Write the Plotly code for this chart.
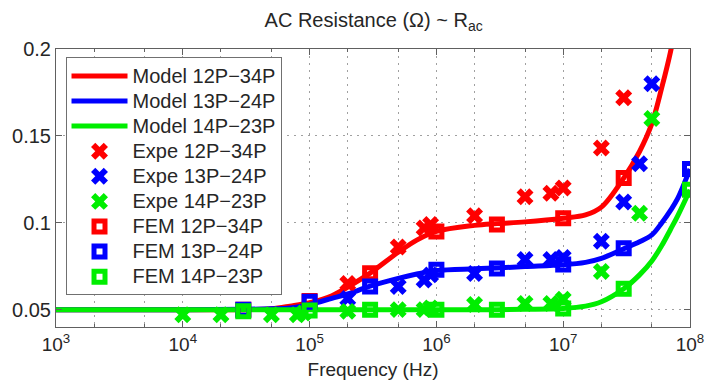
import plotly.graph_objects as go

# ---- data ----
model_freq = [1e3, 1e4, 3e4, 5e4, 7e4, 1e5, 1.5e5, 2e5, 3e5, 5e5, 7e5, 1e6, 2e6, 3e6,
              5e6, 1e7, 1.5e7, 2e7, 3e7, 4e7, 5e7, 6e7, 7e7, 8e7, 1e8]
model_12_34 = [0.05, 0.05, 0.05, 0.0505, 0.052, 0.054, 0.058, 0.063, 0.071, 0.083, 0.090,
               0.095, 0.0985, 0.0995, 0.1005, 0.1026, 0.1045, 0.109, 0.1257, 0.141, 0.157,
               0.178, 0.198, 0.22, 0.27]
model_13_24 = [0.05, 0.05, 0.0502, 0.0505, 0.051, 0.053, 0.0565, 0.059, 0.0635, 0.068, 0.0705,
               0.0725, 0.0735, 0.074, 0.0748, 0.0758, 0.0772, 0.0795, 0.085, 0.089, 0.093,
               0.100, 0.107, 0.114, 0.131]
model_14_23 = [0.05, 0.05, 0.05, 0.05, 0.05, 0.05, 0.05, 0.05, 0.05, 0.05, 0.05,
               0.05, 0.05, 0.05, 0.0502, 0.0507, 0.052, 0.0545, 0.062, 0.070, 0.078,
               0.087, 0.096, 0.104, 0.119]

expe_freq_12_34 = [2e5, 5e5, 8e5, 9e5, 2e6, 5e6, 8e6, 1e7, 2e7, 3e7]
expe_12_34 = [0.065, 0.086, 0.097, 0.099, 0.104, 0.115, 0.117, 0.120, 0.143, 0.172]
expe_freq_13_24 = [2e5, 5e5, 8e5, 9e5, 2e6, 5e6, 8e6, 1e7, 2e7, 3e7, 4e7, 5e7]
expe_13_24 = [0.0564, 0.0633, 0.067, 0.070, 0.0708, 0.0789, 0.0789, 0.080, 0.0893, 0.112,
              0.134, 0.180]
expe_freq_14_23 = [1e4, 2e4, 5e4, 8e4, 9e4, 2e5, 5e5, 8e5, 9e5, 2e6, 5e6, 8e6, 1e7, 2e7,
                   4e7, 5e7]
expe_14_23 = [0.047, 0.047, 0.047, 0.047, 0.048, 0.049, 0.05, 0.05, 0.051, 0.053, 0.0535,
              0.0535, 0.056, 0.072, 0.1055, 0.160]

fem_freq_12_34 = [3e4, 1e5, 3e5, 1e6, 3e6, 1e7, 3e7]
fem_12_34 = [0.05, 0.055, 0.071, 0.095, 0.099, 0.1026, 0.1257]
fem_freq = [3e4, 1e5, 3e5, 1e6, 3e6, 1e7, 3e7, 1e8]
fem_13_24 = [0.05, 0.0546, 0.0633, 0.073, 0.0737, 0.076, 0.0853, 0.131]
fem_14_23 = [0.049, 0.0495, 0.05, 0.05, 0.05, 0.0506, 0.062, 0.119]

series_labels = ["Model 12P\u221234P", "Model 13P\u221224P", "Model 14P\u221223P",
                 "Expe 12P\u221234P", "Expe 13P\u221224P", "Expe 14P\u221223P",
                 "FEM 12P\u221234P", "FEM 13P\u221224P", "FEM 14P\u221223P"]

x_tickvals = [1e3, 1e4, 1e5, 1e6, 1e7, 1e8]
x_ticktext = ["10<sup>3</sup>", "10<sup>4</sup>", "10<sup>5</sup>", "10<sup>6</sup>",
              "10<sup>7</sup>", "10<sup>8</sup>"]
y_tickvals = [0.05, 0.1, 0.15, 0.2]
y_ticktext = ["0.05", "0.1", "0.15", "0.2"]

RED, BLUE, GREEN = "#ff0000", "#0000ff", "#00ee00"


def lbl(s):
    return "<span style='font-size:20px'>" + s + "</span>"


fig = go.Figure()

for name, ys, c in [(series_labels[0], model_12_34, RED),
                    (series_labels[1], model_13_24, BLUE),
                    (series_labels[2], model_14_23, GREEN)]:
    fig.add_trace(go.Scatter(x=model_freq, y=ys, mode="lines", name=lbl(name),
                             line=dict(color=c, width=5, shape="spline", smoothing=1.0)))

for name, xs, ys, c in [(series_labels[3], expe_freq_12_34, expe_12_34, RED),
                        (series_labels[4], expe_freq_13_24, expe_13_24, BLUE),
                        (series_labels[5], expe_freq_14_23, expe_14_23, GREEN)]:
    fig.add_trace(go.Scatter(x=xs, y=ys, mode="markers", name=lbl(name),
                             marker=dict(symbol="x", size=15, color=c,
                                         line=dict(width=0))))

for name, xs, ys, c in [(series_labels[6], fem_freq_12_34, fem_12_34, RED),
                        (series_labels[7], fem_freq, fem_13_24, BLUE),
                        (series_labels[8], fem_freq, fem_14_23, GREEN)]:
    fig.add_trace(go.Scatter(x=xs, y=ys, mode="markers", name=lbl(name),
                             marker=dict(symbol="square-open", size=11, color=c,
                                         line=dict(width=5, color=c))))

GRID = "#a0a0a0"
DASH = "2px,5px"
fig.update_layout(
    width=705, height=381,
    margin=dict(l=56, r=15, t=49, b=54, autoexpand=False),
    paper_bgcolor="white", plot_bgcolor="white",
    font=dict(family="Liberation Sans, Arial, sans-serif", size=19, color="#262626"),
    title=dict(text="AC Resistance (\u03a9) ~ R<sub>ac</sub>", x=0.53, xanchor="center",
               y=0.948, yanchor="middle", font=dict(size=20, color="#262626")),
    showlegend=True,
    legend=dict(x=0.015, y=0.97, xanchor="left", yanchor="top",
                bgcolor="white", bordercolor="#707070", borderwidth=1,
                font=dict(size=17, color="#262626"), itemwidth=56,
                tracegroupgap=0),
)
fig.update_xaxes(type="log", range=[3, 8], tickvals=x_tickvals, ticktext=x_ticktext,
                 ticks="inside", ticklen=6, tickcolor="#606060",
                 tickfont=dict(size=19), automargin=False,
                 ticklabeloverflow="allow",
                 showline=True, linecolor="#606060", linewidth=1, mirror="ticks",
                 showgrid=True, gridcolor=GRID, griddash=DASH, gridwidth=1,
                 minor=dict(ticks="inside", ticklen=3, tickcolor="#606060",
                            showgrid=True, gridcolor=GRID, griddash=DASH, gridwidth=1),
                 title=dict(text="Frequency (Hz)", standoff=8, font=dict(size=19)),
                 zeroline=False)
fig.update_yaxes(range=[0.04, 0.2], tickvals=y_tickvals, ticktext=y_ticktext,
                 ticks="inside", ticklen=6, tickcolor="#606060", automargin=False,
                 tickfont=dict(size=20),
                 showline=True, linecolor="#606060", linewidth=1, mirror="ticks",
                 showgrid=True, gridcolor=GRID, griddash=DASH, gridwidth=1,
                 zeroline=False)

fig.write_html("out.html", config={"displayModeBar": False},
               post_script="document.body.style.margin='0';document.body.style.overflow='hidden';")
